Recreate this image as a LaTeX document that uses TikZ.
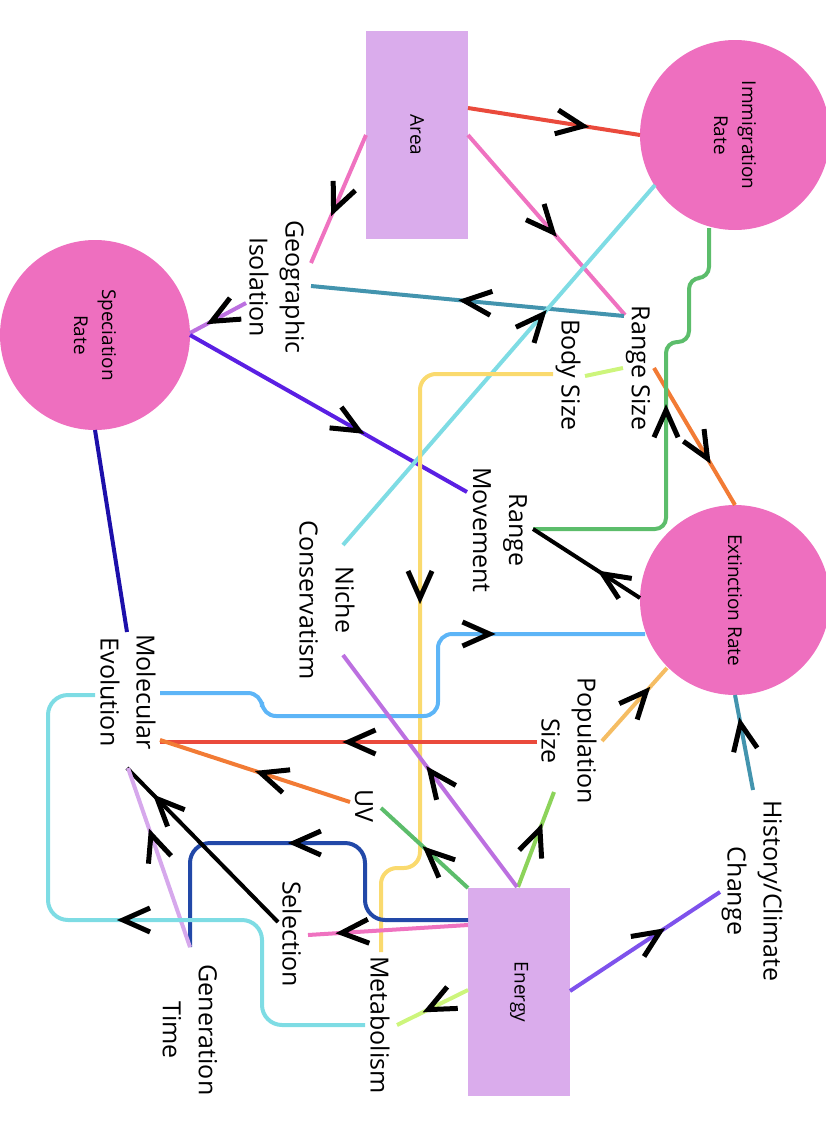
\documentclass[tikz,border=0pt]{standalone}
\usepackage{fontspec}
\setmainfont{Open Sans}
\usetikzlibrary{decorations.markings}
\definecolor{boxfill}{HTML}{DAACEC}
\definecolor{ratefill}{HTML}{EE6FBF}
\definecolor{cRed}{HTML}{EA4A3C}
\definecolor{cPink}{HTML}{EF72C0}
\definecolor{cTeal}{HTML}{4394AE}
\definecolor{cOrchid}{HTML}{BC70E0}
\definecolor{cViolet}{HTML}{5A1FE3}
\definecolor{cCyan}{HTML}{7EDCE4}
\definecolor{cLime}{HTML}{CDF57C}
\definecolor{cYellow}{HTML}{FADA6E}
\definecolor{cOrange}{HTML}{F27B35}
\definecolor{cGreen}{HTML}{5CBD6B}
\definecolor{cSky}{HTML}{5DB5F7}
\definecolor{cApricot}{HTML}{F5BD63}
\definecolor{cIris}{HTML}{7E52EC}
\definecolor{cLeaf}{HTML}{8CD35A}
\definecolor{cLilac}{HTML}{D6A8EC}
\definecolor{cNavy}{HTML}{2248A8}
\definecolor{cIndigo}{HTML}{1C0FAA}
\tikzset{
    lbl/.style={rotate=-90, align=center, inner sep=0pt, font=\fontsize{25}{36}\selectfont},
    boxnode/.style={rotate=-90, fill=boxfill, minimum width=208pt, minimum height=102pt, inner sep=0pt, font=\fontsize{19}{28}\selectfont},
    ratenode/.style={rotate=-90, circle, fill=ratefill, minimum size=190pt, inner sep=0pt, align=center, font=\fontsize{19}{28}\selectfont},
    flow/.style={draw=#1, line width=4pt},
    vmark/.style={postaction={decorate}, decoration={markings, mark=at position #1 with {\draw[black, sharp corners, line width=5pt, line join=miter] (-27pt,12pt) -- (0pt,0pt) -- (-27pt,-12pt);}}}
}
\begin{document}
\begin{tikzpicture}[x=1pt, y=-1pt]
            \useasboundingbox (0,0) rectangle (826,1143);

            \node[
                boxnode,
                name=area
            ] at (417,135) {Area};
            \node[
                boxnode,
                name=energy
            ] at (519,992) {Energy};
            \node[
                ratenode,
                name=imm
            ] at (735,135) {Immigration\\Rate};
            \node[
                ratenode,
                name=spec
            ] at (95,335) {Speciation\\Rate};
            \node[
                ratenode,
                name=ext
            ] at (735,600) {Extinction Rate};

            \node[lbl, name=geo] at (277,287) {Geographic\\Isolation};
            \node[lbl, name=rsize] at (638,368) {Range Size};
            \node[lbl, name=bsize] at (568,375) {Body Size};
            \node[lbl, name=rmove] at (500,530) {Range\\Movement};
            \node[lbl, name=niche] at (327,600) {Niche\\Conservatism};
            \node[lbl, name=molev] at (128,692) {Molecular\\Evolution};
            \node[lbl, name=popsize] at (569,741) {Population\\Size};
            \node[lbl, name=uv] at (364,806) {UV};
            \node[lbl, name=sel] at (292,934) {Selection};
            \node[lbl, name=metab] at (380,1025) {Metabolism};
            \node[lbl, name=gentime] at (190,1030) {Generation\\Time};
            \node[lbl, name=hist] at (752,891) {History/Climate\\Change};

            \draw[flow=cRed, vmark=0.67] ([shift={(51,-27)}]area.center) -- ([shift={(-95,0)}]imm.center);
            \draw[flow=cPink, vmark=0.59] ([shift={(-51,0)}]area.center) -- ([shift={(34,-24)}]geo.center);
            \draw[flow=cPink, vmark=0.54] ([shift={(51,0)}]area.center) -- ([shift={(-13,-53)}]rsize.center);
            \draw[flow=cTeal, vmark=0.51] ([shift={(-14,-52)}]rsize.center) -- ([shift={(34,-1)}]geo.center);
            \draw[flow=cOrchid, vmark=0.61] ([shift={(-31,16)}]geo.center) -- ([shift={(95,-2)}]spec.center);
            \draw[flow=cViolet, vmark=0.61] ([shift={(95,0)}]spec.center) -- ([shift={(-33,-38)}]rmove.center);
            \draw[flow=cCyan, vmark=0.64] ([shift={(16,-55)}]niche.center) -- ([shift={(-80,50)}]imm.center);
            \draw[flow=cLime] ([shift={(17,1)}]bsize.center) -- ([shift={(-15,0)}]rsize.center);
            \draw[flow=cYellow, vmark=0.48, rounded corners=16pt] ([shift={(-15,-1)}]bsize.center) -- (420,374) -- (420,868) -- (381,868) -- ([shift={(1,-73)}]metab.center);
            \draw[flow=cOrange, vmark=0.66] ([shift={(16,0)}]rsize.center) -- ([shift={(0,-95)}]ext.center);
            \draw[flow=cGreen, vmark=0.54, rounded corners=11pt] ([shift={(33,-1)}]rmove.center) -- (666,529) -- (666,342) -- (689,342) -- (689,278) -- (709,278) -- ([shift={(-26,93)}]imm.center);
            \draw[flow=black, vmark=0.35] ([shift={(-95,-2)}]ext.center) -- ([shift={(33,-1)}]rmove.center);
            \draw[flow=cSky, vmark=0.73, rounded corners=14pt] ([shift={(32,1)}]molev.center) -- (262,693) -- (262,716) -- (438,716) -- (438,634) -- ([shift={(-90,34)}]ext.center);
            \draw[flow=cApricot, vmark=0.68] ([shift={(33,0)}]popsize.center) -- ([shift={(-68,68)}]ext.center);
            \draw[flow=cTeal, vmark=0.70] ([shift={(1,-101)}]hist.center) -- ([shift={(0,95)}]ext.center);
            \draw[flow=cIris, vmark=0.60] ([shift={(51,-1)}]energy.center) -- ([shift={(-32,1)}]hist.center);
            \draw[flow=cLeaf, vmark=0.61] ([shift={(-1,-105)}]energy.center) -- ([shift={(-15,51)}]popsize.center);
            \draw[flow=cOrchid, vmark=0.50] ([shift={(-2,-105)}]energy.center) -- ([shift={(16,55)}]niche.center);
            \draw[flow=cGreen, vmark=0.47] ([shift={(-51,-104)}]energy.center) -- ([shift={(17,2)}]uv.center);
            \draw[flow=cPink, vmark=0.79] ([shift={(-51,-67)}]energy.center) -- ([shift={(16,1)}]sel.center);
            \draw[flow=cNavy, vmark=0.54, rounded corners=20pt] ([shift={(-51,-72)}]energy.center) -- (365,920) -- (365,843) -- (190,843) -- ([shift={(0,-83)}]gentime.center);
            \draw[flow=cRed, vmark=0.50] ([shift={(-32,1)}]popsize.center) -- ([shift={(32,50)}]molev.center);
            \draw[flow=cOrange, vmark=0.47] ([shift={(-14,-4)}]uv.center) -- ([shift={(32,48)}]molev.center);
            \draw[flow=black, vmark=0.80] ([shift={(-14,-12)}]sel.center) -- ([shift={(-1,76)}]molev.center);
            \draw[flow=cLilac, vmark=0.63] ([shift={(0,-83)}]gentime.center) -- ([shift={(0,76)}]molev.center);
            \draw[flow=cCyan, vmark=0.50, rounded corners=20pt] ([shift={(-15,0)}]metab.center) -- (262,1025) -- (262,920) -- (48,920) -- (48,695) -- ([shift={(-33,3)}]molev.center);
            \draw[flow=cLime, vmark=0.56] ([shift={(-51,-2)}]energy.center) -- ([shift={(17,0)}]metab.center);
            \draw[flow=cIndigo] ([shift={(0,95)}]spec.center) -- ([shift={(-1,-60)}]molev.center);
        \end{tikzpicture}
\end{document}
